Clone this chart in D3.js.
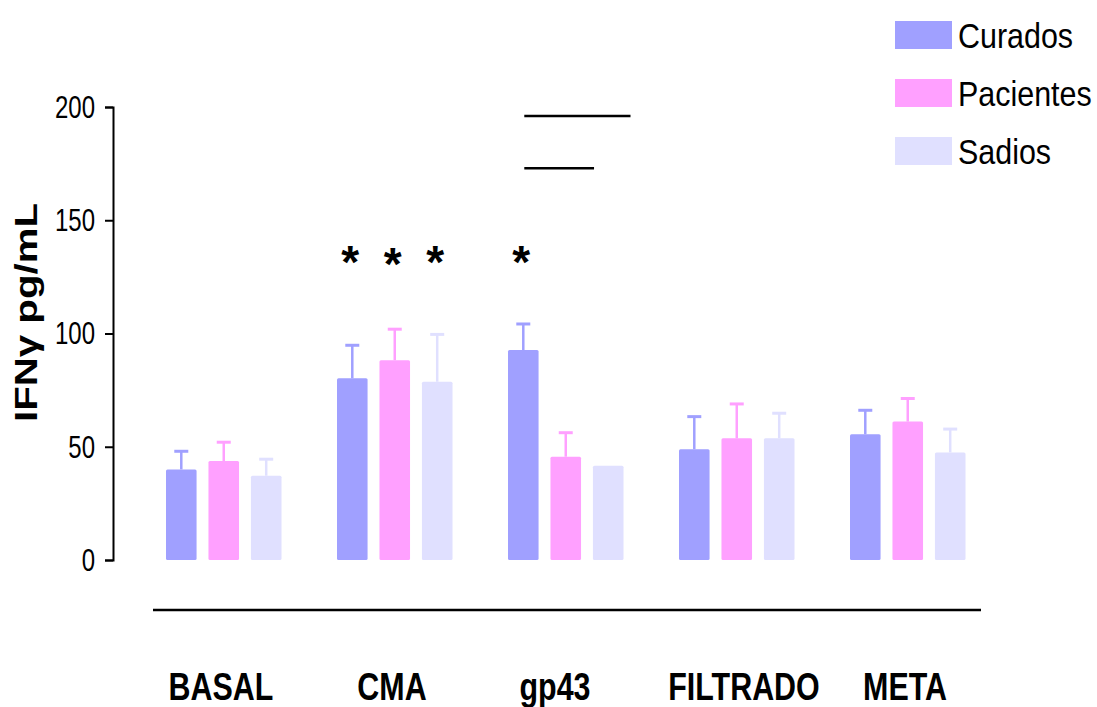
<!DOCTYPE html>
<html>
<head>
<meta charset="utf-8">
<script src="https://cdn.jsdelivr.net/npm/d3@7"></script>
<style>
  body { margin: 0; background: #fff; }
  text { font-family: "Liberation Sans", Arial, sans-serif; }
</style>
</head>
<body>
<div id="chart"></div>
<script>
// Groups and series
var groups = ["BASAL", "CMA", "gp43", "FILTRADO", "META"];
var seriesNames = ["Curados", "Pacientes", "Sadios"];
var seriesColors = ["#a0a0ff", "#ffa0ff", "#e0e0ff"];

// Means (pg/mL) per group
var curados = [40, 80.2, 92.7, 48.9, 55.5];
var pacientes = [43.7, 88.2, 45.6, 53.7, 61.1];
var sadios = [37.2, 78.7, 41.6, 53.7, 47.5];

// Error bars (upper only)
var curadosErr = [8, 14.6, 11.5, 14.4, 10.6];
var pacientesErr = [8.3, 13.7, 10.6, 15.2, 10.2];
var sadiosErr = [7.3, 20.9, 0, 11.1, 10.3];

// Y ticks
var yTicks = [0, 50, 100, 150, 200];

// Asterisks (group, series, level)
var stars = [
    { group: "CMA", series: "Curados", level: 133 },
    { group: "CMA", series: "Pacientes", level: 132 },
    { group: "CMA", series: "Sadios", level: 133 },
    { group: "gp43", series: "Curados", level: 133 }
];

// Comparison lines in gp43
var sigLines = [
    { group: "gp43", from: "Curados", to: "Sadios", level: 196 },
    { group: "gp43", from: "Curados", to: "Pacientes", level: 173 }
];

// build rows
var allValues = [curados, pacientes, sadios];
var allErrs = [curadosErr, pacientesErr, sadiosErr];
var dataObj = [];
for (var g = 0; g < groups.length; g++) {
    for (var s = 0; s < seriesNames.length; s++) {
        dataObj.push({ group: groups[g], series: seriesNames[s], value: allValues[s][g], err: allErrs[s][g], color: seriesColors[s] });
    }
}

var width = 1097, height = 707;

var svg = d3.select("#chart")
    .append("svg")
    .attr("width", width)
    .attr("height", height);

// scales
var y = d3.scaleLinear().domain([0, 200]).range([560, 107]);

var x = d3.scalePoint()
    .domain(groups)
    .range([224, 908]);

var xSub = d3.scaleBand()
    .domain(seriesNames)
    .range([-58, 57.5])
    .paddingInner(0.28);

var bw = xSub.bandwidth();

// Y axis
var yAxis = svg.append("g")
    .attr("transform", "translate(113,0)")
    .call(d3.axisLeft(y).tickValues(yTicks).tickSize(8).tickPadding(16).tickFormat(d3.format("d")));
yAxis.select(".domain").attr("stroke", "#000").attr("stroke-width", 2);
yAxis.selectAll(".tick line").attr("stroke", "#000").attr("stroke-width", 2);
yAxis.selectAll(".tick text")
    .attr("font-size", 32)
    .attr("fill", "#000")
    .attr("transform", "scale(0.75,1)")
    .style("font-family", "'Liberation Sans', Arial, sans-serif");

// Y title
svg.append("text")
    .attr("transform", "translate(37,312.5) rotate(-90)")
    .attr("text-anchor", "middle")
    .attr("font-size", 31)
    .attr("font-weight", "bold")
    .attr("textLength", 219)
    .attr("lengthAdjust", "spacingAndGlyphs")
    .text("IFN\u03b3 pg/mL");

// Error bars
var eb = svg.selectAll("g.err")
    .data(dataObj.filter(function (d) { return d.err > 0; }))
    .enter()
    .append("g");
eb.append("line")
    .attr("x1", function (d) { return x(d.group) + xSub(d.series) + bw / 2; })
    .attr("x2", function (d) { return x(d.group) + xSub(d.series) + bw / 2; })
    .attr("y1", function (d) { return y(d.value); })
    .attr("y2", function (d) { return y(d.value + d.err); })
    .attr("stroke", function (d) { return d.color; })
    .attr("stroke-width", 2.5);
eb.append("line")
    .attr("x1", function (d) { return x(d.group) + xSub(d.series) + bw / 2 - 7; })
    .attr("x2", function (d) { return x(d.group) + xSub(d.series) + bw / 2 + 7; })
    .attr("y1", function (d) { return y(d.value + d.err); })
    .attr("y2", function (d) { return y(d.value + d.err); })
    .attr("stroke", function (d) { return d.color; })
    .attr("stroke-width", 3);

// Bars
svg.selectAll("rect.bar")
    .data(dataObj)
    .enter()
    .append("rect")
    .attr("class", "bar")
    .attr("x", function (d) { return x(d.group) + xSub(d.series); })
    .attr("y", function (d) { return y(d.value); })
    .attr("width", bw)
    .attr("height", function (d) { return y(0) - y(d.value); })
    .attr("rx", 1.5)
    .attr("fill", function (d) { return d.color; });

// Asterisks
svg.selectAll("text.star")
    .data(stars)
    .enter()
    .append("text")
    .attr("x", function (d) { return x(d.group) + xSub(d.series) + bw / 2 - 2; })
    .attr("y", function (d) { return y(d.level); })
    .attr("dy", "0.42em")
    .attr("text-anchor", "middle")
    .attr("font-size", 46)
    .attr("font-weight", "bold")
    .text("*");

// Comparison lines
svg.selectAll("line.sig")
    .data(sigLines)
    .enter()
    .append("line")
    .attr("x1", function (d) { return x(d.group) + xSub(d.from) + bw / 2 + 1; })
    .attr("x2", function (d) { return x(d.group) + xSub(d.to) + bw + (d.to === "Sadios" ? 7 : 13); })
    .attr("y1", function (d) { return y(d.level); })
    .attr("y2", function (d) { return y(d.level); })
    .attr("stroke", "#000")
    .attr("stroke-width", 2.5);

// Baseline under the plot
svg.append("line")
    .attr("x1", x(groups[0]) - 71)
    .attr("x2", x(groups[groups.length - 1]) + 73)
    .attr("y1", 610)
    .attr("y2", 610)
    .attr("stroke", "#000")
    .attr("stroke-width", 2.5);

// Group labels (condensed look)
svg.selectAll("text.glabel")
    .data(groups)
    .enter()
    .append("text")
    .attr("transform", function (d, i) {
        // gp43 and FILTRADO sit a little off their group centre in the original
        var nudge = d === "gp43" ? -11 : (d === "FILTRADO" ? 7 : -3);
        return "translate(" + (x(d) + nudge) + ",700) scale(0.78,1)";
    })
    .attr("text-anchor", "middle")
    .attr("font-size", 39)
    .attr("font-weight", "bold")
    .text(function (d) { return d; });

// Legend
var legend = svg.selectAll("g.legend")
    .data(seriesNames)
    .enter()
    .append("g")
    .attr("transform", function (d, i) { return "translate(895," + (21 + i * 58) + ")"; });
legend.append("rect")
    .attr("width", 57)
    .attr("height", 28)
    .attr("fill", function (d, i) { return seriesColors[i]; });
legend.append("text")
    .attr("transform", "translate(63,27) scale(0.87,1)")
    .attr("font-size", 35)
    .text(function (d) { return d; });
</script>
</body>
</html>
